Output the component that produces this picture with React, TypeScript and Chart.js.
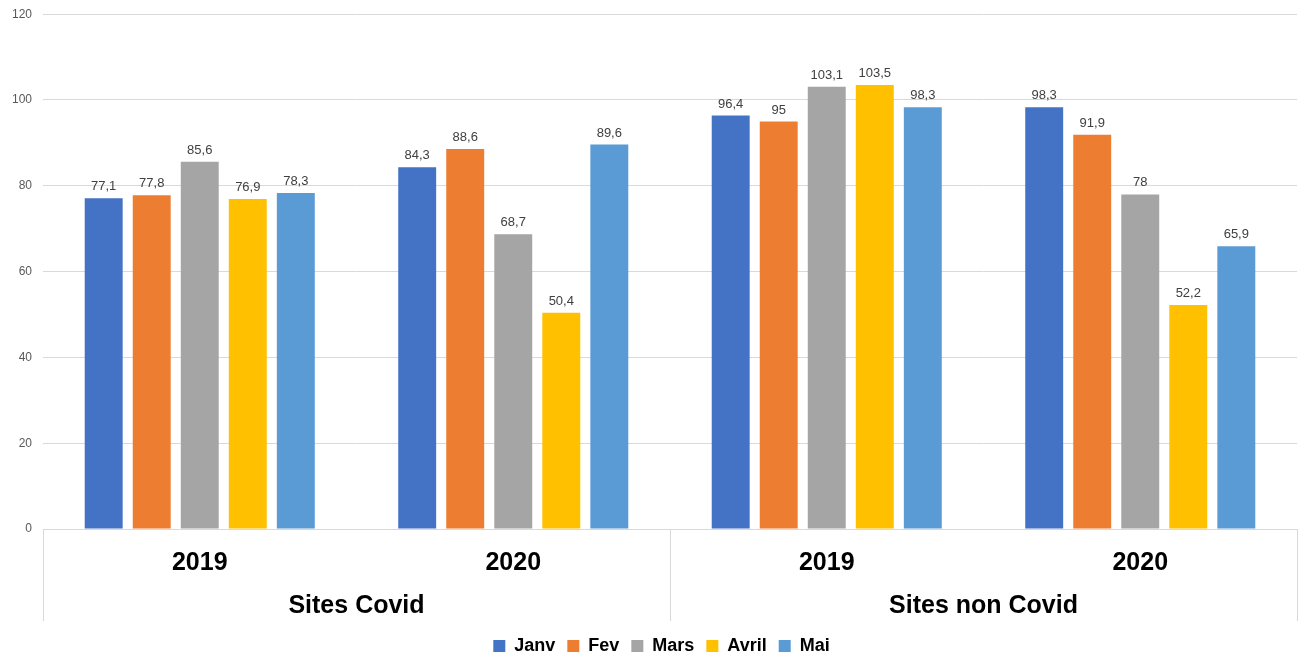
import React, { useEffect, useRef } from "react";
import { Chart, registerables } from "chart.js";

Chart.register(...registerables);

const categories = ["2019", "2020", "2019", "2020"];
const groups = ["Sites Covid", "Sites non Covid"];
const seriesNames = ["Janv", "Fev", "Mars", "Avril", "Mai"];
const janv = [77.1, 84.3, 96.4, 98.3];
const fev = [77.8, 88.6, 95, 91.9];
const mars = [85.6, 68.7, 103.1, 78];
const avril = [76.9, 50.4, 103.5, 52.2];
const mai = [78.3, 89.6, 98.3, 65.9];
const colors = ["#4472C4", "#ED7D31", "#A5A5A5", "#FFC000", "#5B9BD5"];
const yTicks = [0, 20, 40, 60, 80, 100, 120];

const FONT = "'Liberation Sans', Arial, sans-serif";
const XAXIS_H = 96;
const SEP_H = 92;
const LEGEND_SHIFT = 13;

const valueLabels = {
  id: "valueLabels",
  afterDatasetsDraw(chart: any) {
    const ctx = chart.ctx;
    ctx.save();
    ctx.font = `13px ${FONT}`;
    ctx.fillStyle = "#404040";
    ctx.textAlign = "center";
    ctx.textBaseline = "bottom";
    chart.data.datasets.forEach((ds: any, i: number) => {
      const meta = chart.getDatasetMeta(i);
      meta.data.forEach((bar: any, j: number) => {
        const v = ds.data[j];
        ctx.fillText(String(v).replace(".", ","), bar.x, bar.y - 5);
      });
    });
    ctx.restore();
  },
};

const legendShift = {
  id: "legendShift",
  afterLayout(chart: any) {
    if (chart.legend) {
      chart.legend.left += LEGEND_SHIFT;
      chart.legend.right += LEGEND_SHIFT;
    }
  },
};

const groupAxis = {
  id: "groupAxis",
  afterDraw(chart: any) {
    const { ctx, chartArea } = chart;
    const left = chartArea.left;
    const right = chartArea.right;
    const mid = (left + right) / 2;
    const top = chartArea.bottom;
    const bottom = top + SEP_H;
    ctx.save();
    ctx.strokeStyle = "#d9d9d9";
    ctx.lineWidth = 1;
    [left, mid, right].forEach((x) => {
      const xx = Math.round(x) + 0.5;
      ctx.beginPath();
      ctx.moveTo(xx, top);
      ctx.lineTo(xx, bottom);
      ctx.stroke();
    });
    ctx.font = `bold 25px ${FONT}`;
    ctx.fillStyle = "#000000";
    ctx.textAlign = "center";
    ctx.textBaseline = "middle";
    ctx.fillText(groups[0], (left + mid) / 2, top + 77);
    ctx.fillText(groups[1], (mid + right) / 2, top + 77);
    ctx.restore();
  },
};

export default function App() {
  const ref = useRef<HTMLCanvasElement>(null);
  useEffect(() => {
    if (!ref.current) return;
    const series = [janv, fev, mars, avril, mai];
    const chart = new Chart(ref.current, {
      type: "bar",
      data: {
        labels: categories,
        datasets: series.map((d, i) => ({
          label: seriesNames[i],
          data: d,
          backgroundColor: colors[i],
          borderWidth: 0,
          categoryPercentage: 0.766,
          barPercentage: 0.79,
        })),
      },
      options: {
        animation: false,
        responsive: false,
        maintainAspectRatio: false,
        layout: { padding: { top: 0, right: 6, left: 0, bottom: 0 } },
        plugins: {
          legend: {
            position: "bottom",
            labels: {
              boxWidth: 12,
              boxHeight: 12,
              padding: 12,
              color: "#000000",
              font: { family: FONT, size: 18, weight: "bold" },
            },
          },
          tooltip: { enabled: false },
        },
        scales: {
          x: {
            grid: { display: false },
            border: { display: true, color: "#d9d9d9" },
            ticks: {
              color: "#000000",
              padding: 11,
              font: { family: FONT, size: 25, weight: "bold" },
            },
            afterFit(scale: any) {
              scale.height = XAXIS_H;
            },
          },
          y: {
            min: 0,
            max: 120,
            afterBuildTicks(scale: any) {
              scale.ticks = yTicks.map((v) => ({ value: v }));
            },
            grid: { color: "#d9d9d9", drawTicks: false },
            border: { display: false },
            ticks: {
              color: "#595959",
              padding: 11,
              font: { family: FONT, size: 12 },
            },
            afterFit(scale: any) {
              scale.width = 43;
            },
          },
        },
      },
      plugins: [valueLabels, groupAxis, legendShift],
    });
    return () => chart.destroy();
  }, []);
  return (
    <div
      style={{
        position: "fixed",
        left: 0,
        top: 0,
        width: 1303,
        height: 657,
        overflow: "hidden",
        background: "#ffffff",
      }}
    >
      <canvas
        ref={ref}
        width={1303}
        height={669}
        style={{ display: "block", position: "absolute", left: 0, top: -4 }}
      />
    </div>
  );
}
